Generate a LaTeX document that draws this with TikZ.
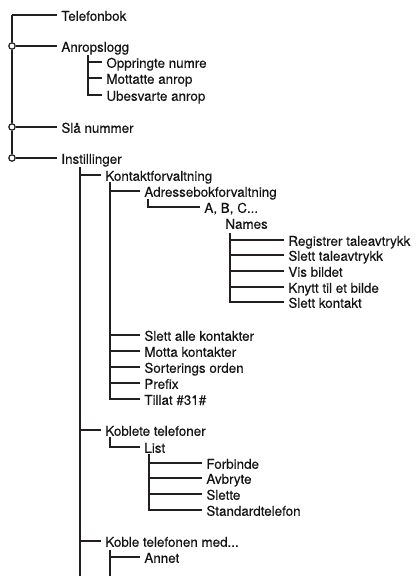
\documentclass[tikz,border=0pt]{standalone}
\usepackage{fontspec}
\setmainfont{TeX Gyre Heros}[FakeBold=0.35]
\usetikzlibrary{positioning}
\definecolor{treeline}{RGB}{35,31,32}
\definecolor{itemcol}{RGB}{20,20,20}

\begin{document}
\begin{tikzpicture}[x=0.5pt,y=-0.5pt,
    every node/.style={font=\fontsize{6.7}{8}\selectfont, text=itemcol, anchor=west,
                       inner xsep=2pt, inner ysep=0pt, text height=1.45ex, text depth=0.35ex},
    branch/.style={draw=treeline, line width=0.7pt},
    joint/.style={circle, draw=treeline, fill=white, line width=0.6pt, anchor=center,
                  inner sep=0pt, minimum size=3.2pt, text height=0pt, text depth=0pt}]
  \useasboundingbox (0,0) rectangle (419,576);
  % top level
  \coordinate (trunk) at (12,15);
  \node (tel)  at (57,15)  {Telefonbok};
  \node (anr)  at (57,46)  {Anropslogg};
  \node (sla)  at (57,127) {Slå nummer};
  \node (inst) at (57,158) {Instillinger};
  \node[joint] (j1) at (12,46)  {};
  \node[joint] (j2) at (12,127) {};
  \node[joint] (j3) at (12,158) {};
  \draw[branch] (trunk) -- (j1.north) (j1.south) -- (j2.north) (j2.south) -- (j3.north);
  \draw[branch] (trunk) -- (tel.west);
  \draw[branch] (j1.east) -- (anr.west);
  \draw[branch] (j2.east) -- (sla.west);
  \draw[branch] (j3.east) -- (inst.west);
  % anropslogg
  \coordinate (anrtop) at (88,55);
  \node (opp) at (102,62) {Oppringte numre};
  \node (mot) at (102,78) {Mottatte anrop};
  \node (ube) at (102,95) {Ubesvarte anrop};
  \draw[branch] (anrtop) |- (ube.west);
  \draw[branch] (opp.west -| anrtop) -- (opp.west);
  \draw[branch] (mot.west -| anrtop) -- (mot.west);
  % instillinger
  \coordinate (insttop) at (80,167);
  \coordinate (instbot) at (80,576);
  \node (kontakt) at (101,175) {Kontaktforvaltning};
  \node (koblete) at (101,430) {Koblete telefoner};
  \node (koble)   at (101,541) {Koble telefonen med...};
  \draw[branch] (insttop) -- (instbot);
  \draw[branch] (kontakt.west -| insttop) -- (kontakt.west);
  \draw[branch] (koblete.west -| insttop) -- (koblete.west);
  \draw[branch] (koble.west -| insttop) -- (koble.west);
  % kontaktforvaltning
  \coordinate (kontop) at (110,182);
  \node (adr)    at (140,191) {Adressebokforvaltning};
  \node (slalle) at (140,335) {Slett alle kontakter};
  \node (motta)  at (140,351) {Motta kontakter};
  \node (sort)   at (140,367) {Sorterings orden};
  \node (prefix) at (140,383) {Prefix};
  \node (tillat) at (140,399) {Tillat \#31\#};
  \draw[branch] (kontop) |- (tillat.west);
  \draw[branch] (adr.west -| kontop) -- (adr.west);
  \draw[branch] (slalle.west -| kontop) -- (slalle.west);
  \draw[branch] (motta.west -| kontop) -- (motta.west);
  \draw[branch] (sort.west -| kontop) -- (sort.west);
  \draw[branch] (prefix.west -| kontop) -- (prefix.west);
  % adressebok
  \coordinate (adrtop) at (148,199);
  \node (abc)   at (200,207) {A, B, C...};
  \node (names) at (221,223) {Names};
  \draw[branch] (adrtop) |- (abc.west);
  \coordinate (namtop) at (230,233);
  \node (reg)   at (284,240) {Registrer taleavtrykk};
  \node (slt)   at (284,255) {Slett taleavtrykk};
  \node (vis)   at (284,271) {Vis bildet};
  \node (knytt) at (284,287) {Knytt til et bilde};
  \node (slk)   at (284,302) {Slett kontakt};
  \draw[branch] (namtop) |- (slk.west);
  \draw[branch] (reg.west -| namtop) -- (reg.west);
  \draw[branch] (slt.west -| namtop) -- (slt.west);
  \draw[branch] (vis.west -| namtop) -- (vis.west);
  \draw[branch] (knytt.west -| namtop) -- (knytt.west);
  % koblete telefoner
  \coordinate (kobtop) at (110,437);
  \node (list) at (140,447) {List};
  \draw[branch] (kobtop) |- (list.west);
  \coordinate (listtop) at (149,454);
  \node (forb)  at (202,463) {Forbinde};
  \node (avbr)  at (202,478) {Avbryte};
  \node (slet)  at (202,494) {Slette};
  \node (stand) at (202,510) {Standardtelefon};
  \draw[branch] (listtop) |- (stand.west);
  \draw[branch] (forb.west -| listtop) -- (forb.west);
  \draw[branch] (avbr.west -| listtop) -- (avbr.west);
  \draw[branch] (slet.west -| listtop) -- (slet.west);
  % koble telefonen med
  \coordinate (kmtop) at (110,550);
  \coordinate (kmbot) at (110,576);
  \node (annet) at (140,557) {Annet};
  \draw[branch] (kmtop) -- (kmbot);
  \draw[branch] (annet.west -| kmtop) -- (annet.west);
\end{tikzpicture}
\end{document}
